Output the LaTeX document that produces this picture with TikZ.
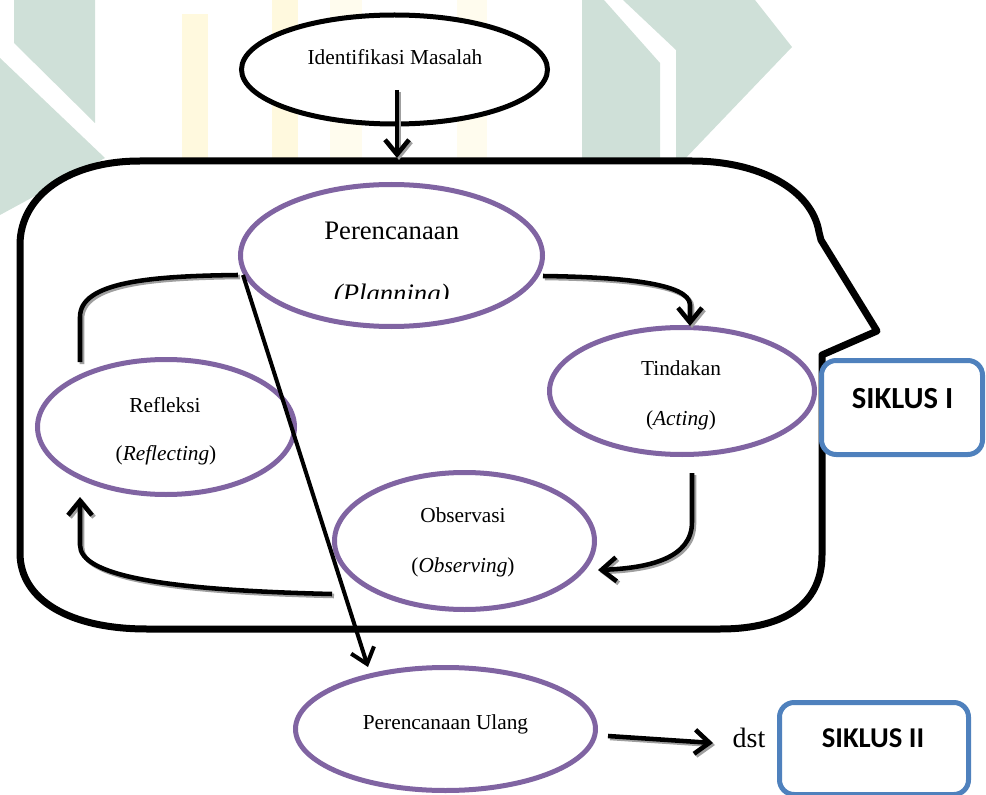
\documentclass[tikz,border=0pt]{standalone}
\usepackage{fontspec}
\setmainfont{Liberation Serif}
\newfontfamily\calib{Carlito}
\usetikzlibrary{arrows.meta,shapes.geometric}
\definecolor{purp}{HTML}{8064A2}
\definecolor{blu}{HTML}{4F81BD}
\definecolor{wmg}{RGB}{207,224,216}
\definecolor{wmy}{RGB}{255,249,222}
\definecolor{wmy2}{RGB}{255,252,238}
\begin{document}
\begin{tikzpicture}[x=0.75pt,y=-0.75pt,
  ell/.style={ellipse, draw=purp, line width=3.75pt, fill=white, inner sep=0pt},
  lbl/.style={font=\fontsize{16}{18}\selectfont, anchor=base, inner sep=0pt},
  conn/.style={line width=3.4pt, preaction={draw=gray!75, line width=3.4pt, transform canvas={shift={(1.5pt,-1.5pt)}}}},
  tip/.style={-{Straight Barb[length=11pt,width=18pt]}},
  box/.style={draw=blu, line width=3.75pt, rounded corners=11pt, fill=white, inner sep=0pt},
  sik/.style={font=\calib\bfseries\fontsize{23}{25}\selectfont, anchor=base, inner sep=0pt},
]
\useasboundingbox (0,0) rectangle (986,795);
% watermark
\fill[wmg] (14,0) -- (95,0) -- (95,123) -- (14,43) -- cycle;
\fill[wmg] (0,58) -- (105,158) -- (0,215) -- cycle;
\fill[wmg] (582,0) -- (604,0) -- (660,63) -- (660,162) -- (582,162) -- cycle;
\fill[wmg] (623,0) -- (755,0) -- (792,47) -- (682,162) -- (676,162) -- (676,50) -- cycle;
\fill[wmy] (182,14) rectangle (208,162);
\fill[wmy] (272,0) rectangle (298,162);
\fill[wmy2] (330,0) rectangle (362,162);
\fill[wmy2] (457,0) rectangle (487,162);
% frame
\draw[line width=5.25pt, fill=white, line join=round]
  (140,161) -- (692,161) .. controls (760,161) and (812,190) .. (819,232)
  -- (821,240) -- (877,331) -- (822,355) -- (822,555)
  .. controls (822,600) and (790,629) .. (720,629) -- (147,629)
  .. controls (70,629) and (20,600) .. (20,553) -- (20,245)
  .. controls (20,195) and (70,161) .. cycle;
% nodes
\node[ellipse, draw=black, line width=3.75pt, fill=white, inner sep=0pt,
      minimum width=306*0.75pt, minimum height=109*0.75pt] (ident) at (394.5,69.5) {};
\node[lbl] (identt) at (395,65) {Identifikasi Masalah};
\node[ell, minimum width=302*0.75pt, minimum height=142*0.75pt] (plan) at (391.5,255.5) {};
\node[lbl, font=\fontsize{20}{22}\selectfont] (plant) at (391.7,240) {Perencanaan};
\begin{scope}
  \clip (250,270) rectangle (540,298);
  \node[lbl, font=\fontsize{20}{22}\selectfont\itshape] (plant2) at (391.7,302.5) {(Planning)};
\end{scope}
\node[ell, minimum width=265*0.75pt, minimum height=127*0.75pt] (act) at (682,391) {};
\node[lbl] (actt) at (681,375) {Tindakan};
\node[lbl] (actt2) at (681,425) {(\textit{Acting})};
\node[ell, minimum width=257*0.75pt, minimum height=135*0.75pt] (refl) at (166,427) {};
\node[lbl] (reflt) at (165,412) {Refleksi};
\node[lbl] (reflt2) at (166,460) {(\textit{Reflecting})};
\node[ell, minimum width=260*0.75pt, minimum height=137*0.75pt] (obs) at (464.5,541) {};
\node[lbl] (obst) at (463,522) {Observasi};
\node[lbl] (obst2) at (463,572) {(\textit{Observing})};
\node[ell, minimum width=300*0.75pt, minimum height=123*0.75pt] (ulang) at (445.5,729) {};
\node[lbl] (ulangt) at (445.5,729) {Perencanaan Ulang};
\node[box, minimum width=161*0.75pt, minimum height=94*0.75pt] (s1) at (902,407.5) {};
\node[sik] (s1t) at (902.5,408) {SIKLUS I};
\node[box, minimum width=189*0.75pt, minimum height=92*0.75pt] (s2) at (874,748.5) {};
\node[sik, font=\calib\bfseries\fontsize{21.5}{23}\selectfont] (s2t) at (873,747) {SIKLUS II};
\node[lbl, font=\fontsize{21}{23}\selectfont] (dst) at (749,747) {dst};
% connector end points
\coordinate (a1s) at (397,90);
\coordinate (a1e) at (397,158);
\coordinate (a2s) at (543,276);
\coordinate (a2e) at (690,326);
\coordinate (a3s) at (238,275);
\coordinate (a3e) at (80,362);
\coordinate (a4s) at (692,473);
\coordinate (a4e) at (598,570);
\coordinate (a5s) at (332,594);
\coordinate (a5e) at (80,497);
\coordinate (a6s) at (243,275);
\coordinate (a6e) at (368,667);
\coordinate (a7s) at (608,736);
\coordinate (a7e) at (713,743);
% connectors
\draw[conn,tip] (a1s) -- (a1e);
\draw[conn,tip] (a2s) .. controls (620,277) and (690,283) .. (690,305) -- (a2e);
\draw[conn] (a3s) .. controls (150,276) and (80,282) .. (80,317) -- (a3e);
\draw[conn,tip] (a4s) -- (692,522) .. controls (692,558) and (650,568) .. (a4e);
\draw[conn,tip] (a5s) .. controls (160,590) and (80,575) .. (80,545) -- (a5e);
\draw[line width=3pt,tip] (a6s) -- (a6e);
\draw[conn,tip] (a7s) -- (a7e);
\end{tikzpicture}
\end{document}
